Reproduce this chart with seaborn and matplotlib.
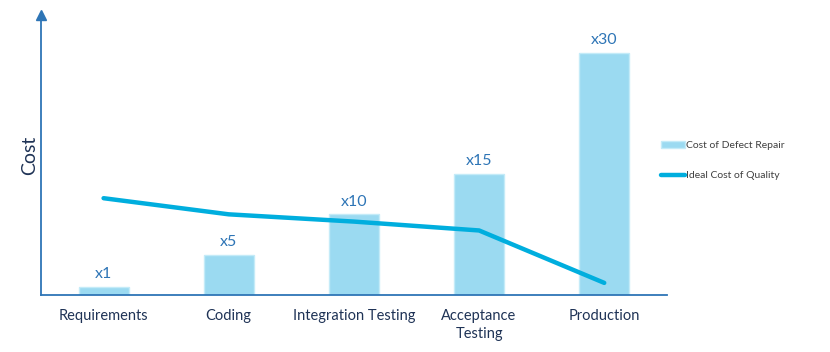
import matplotlib
matplotlib.use("Agg")
import matplotlib.pyplot as plt
from matplotlib.patches import Patch
from matplotlib.lines import Line2D
import numpy as np
import pandas as pd
import seaborn as sns

# data
stages = ["Requirements", "Coding", "Integration Testing", "Acceptance\nTesting", "Production"]
repair_cost = [1, 5, 10, 15, 30]
repair_labels = ["x1", "x5", "x10", "x15", "x30"]
ideal_quality = [12.0, 10.0, 9.1, 8.0, 1.5]

bar_color = "#9bdaf1"
line_color = "#00aede"
axis_color = "#2e75b6"
text_color = "#1f3356"

sns.set_theme(style="white")
plt.rcParams['font.family'] = ['Lato', 'DejaVu Sans']

df = pd.DataFrame({"stage": stages, "cost": repair_cost, "ideal": ideal_quality})
df["pos"] = np.arange(len(df))

fig = plt.figure(figsize=(8.3, 3.52), dpi=100)
ax = fig.add_axes([0.0494, 0.162, 0.754, 0.795])

sns.barplot(data=df, x="stage", y="cost", color=bar_color, saturation=1,
            width=0.4, edgecolor="#c4ebf8", linewidth=1, ax=ax)
sns.lineplot(data=df, x="pos", y="ideal", color=line_color, linewidth=3.2,
             solid_capstyle="round", ax=ax)

# multiplier labels above bars
for i, (v, lab) in enumerate(zip(repair_cost, repair_labels)):
    ax.text(i, v + 0.7, lab, ha="center", va="bottom", fontsize=11.5, color=axis_color)

ax.set_xlim(-0.5, 4.5)
ax.set_ylim(0, 34.7)
ax.set_yticks([])
ax.set_xlabel("")
ax.set_ylabel("Cost", fontsize=14, color=text_color, labelpad=2)
ax.tick_params(axis="x", length=0, pad=10, labelsize=10.5, labelcolor=text_color)
for t in ax.get_xticklabels():
    t.set_linespacing(1.35)

sns.despine(ax=ax)
for s in ["left", "bottom"]:
    ax.spines[s].set_color(axis_color)
    ax.spines[s].set_linewidth(1.3)
ax.plot(0, 1.0, marker="^", color=axis_color, markersize=7, transform=ax.transAxes,
        clip_on=False)

handles = [Patch(facecolor=bar_color, edgecolor="#c4ebf8"),
           Line2D([0], [0], color=line_color, linewidth=3.2, solid_capstyle="round")]
fig.legend(handles, ["Cost of Defect Repair", "Ideal Cost of Quality"],
           loc="upper left", bbox_to_anchor=(0.785, 0.625), frameon=False,
           fontsize=7.5, labelcolor="#404040", handlelength=2.3, handletextpad=0.1,
           labelspacing=2.0, handleheight=0.6)

fig.savefig("out.png", dpi=100, facecolor="white")
